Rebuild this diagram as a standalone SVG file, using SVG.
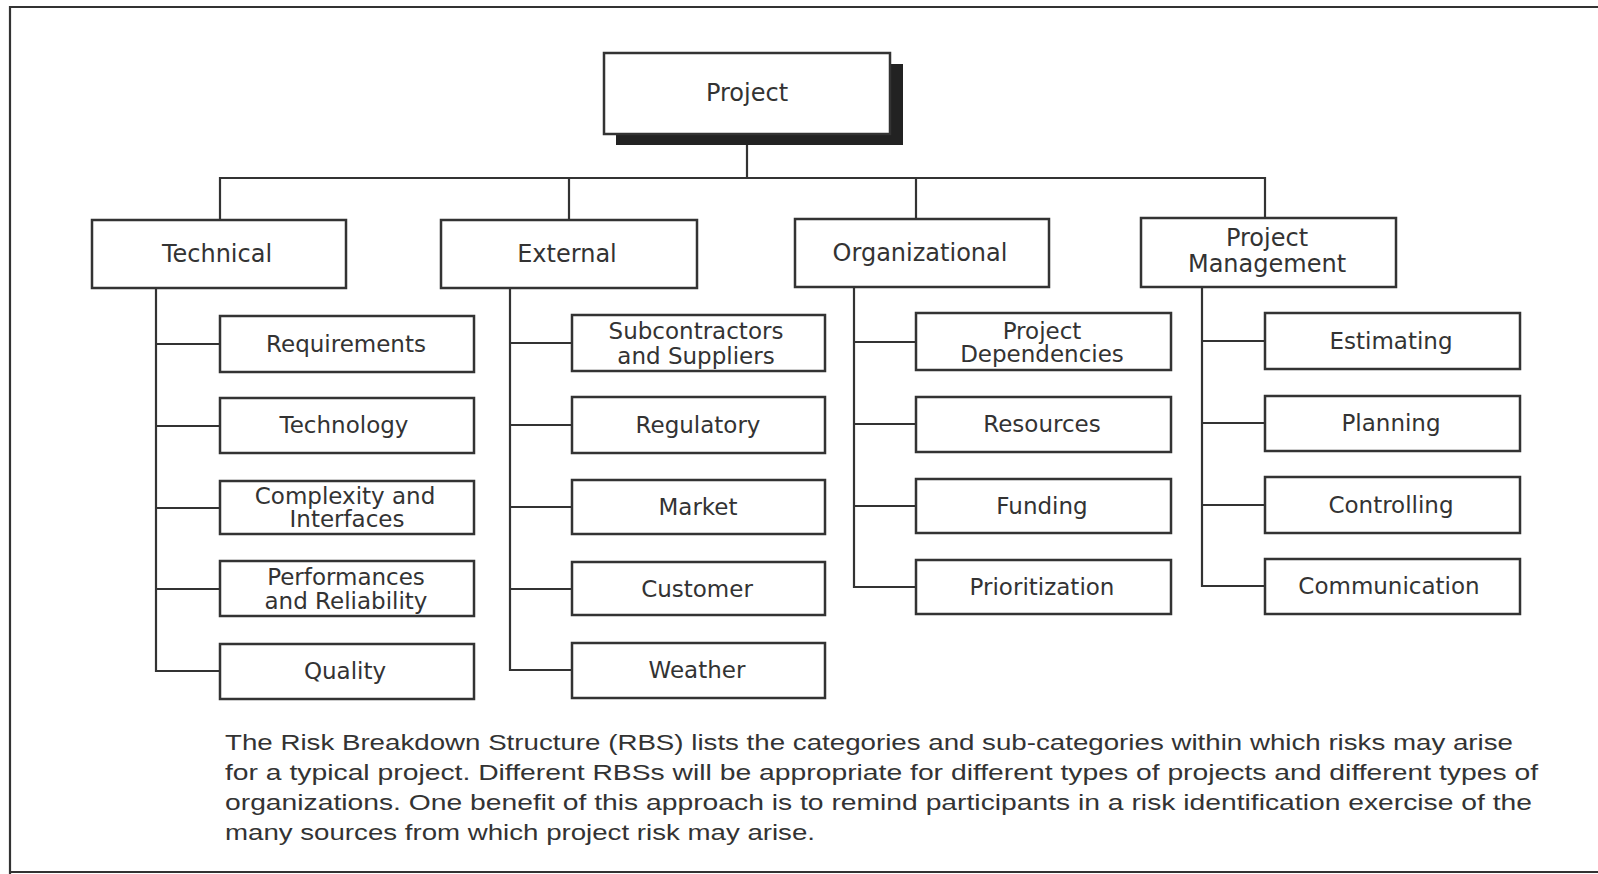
<svg xmlns="http://www.w3.org/2000/svg" width="1598" height="874" viewBox="0 0 1598 874">
<style>
.box{fill:#fff;stroke:#333;stroke-width:2.5}
.shadow{fill:#222}
.ln{fill:none;stroke:#333;stroke-width:2.2}
.t{font-family:"DejaVu Sans",sans-serif;font-size:23px;fill:#333;text-anchor:middle;dominant-baseline:central}
.tc{font-family:"DejaVu Sans",sans-serif;font-size:24px;fill:#333;text-anchor:middle;dominant-baseline:central}
.cap{font-family:"Liberation Sans",sans-serif;font-size:22px;fill:#333}
</style>
<rect width="1598" height="874" fill="#fff"/>
<path class="ln" d="M10,874 V7 H1598 M10,872 H1598" stroke-width="3"/>
<g id="connectors">
<path class="ln" d="M747,134 V178 M220,220 V178 H1265 V218 M569,178 V220 M916,178 V219"/>
<path class="ln" d="M156,288 V671 H220 M156,344 H220 M156,426 H220 M156,508 H220 M156,589 H220"/>
<path class="ln" d="M510,288 V670 H572 M510,343 H572 M510,425 H572 M510,507 H572 M510,589 H572"/>
<path class="ln" d="M854,287 V587 H916 M854,342 H916 M854,424 H916 M854,506 H916"/>
<path class="ln" d="M1202,287 V586 H1265 M1202,341 H1265 M1202,423 H1265 M1202,505 H1265"/>
</g>
<g id="project"><rect class="shadow" x="616" y="64" width="287" height="81"/><rect class="box" x="604" y="53" width="286" height="81"/><text class="tc" x="747" y="93">Project</text></g>
<g id="technical"><rect class="box" x="92" y="220" width="254" height="68"/><text class="tc" x="217" y="254">Technical</text></g>
<g id="external"><rect class="box" x="441" y="220" width="256" height="68"/><text class="tc" x="567" y="254">External</text></g>
<g id="organizational"><rect class="box" x="795" y="219" width="254" height="68"/><text class="tc" x="920" y="253">Organizational</text></g>
<g id="project-management"><rect class="box" x="1141" y="218" width="255" height="69"/><text class="tc" x="1267" y="238">Project</text><text class="tc" x="1267" y="264">Management</text></g>

<g id="requirements"><rect class="box" x="220" y="316" width="254" height="56"/><text class="t" x="346" y="344">Requirements</text></g>
<g id="technology"><rect class="box" x="220" y="398" width="254" height="55"/><text class="t" x="344" y="425">Technology</text></g>
<g id="complexity"><rect class="box" x="220" y="481" width="254" height="53"/><text class="t" x="345" y="496">Complexity and</text><text class="t" x="347" y="519">Interfaces</text></g>
<g id="performances"><rect class="box" x="220" y="561" width="254" height="55"/><text class="t" x="346" y="577">Performances</text><text class="t" x="346" y="601">and Reliability</text></g>
<g id="quality"><rect class="box" x="220" y="644" width="254" height="55"/><text class="t" x="345" y="671">Quality</text></g>

<g id="subcontractors"><rect class="box" x="572" y="315" width="253" height="56"/><text class="t" x="696" y="331">Subcontractors</text><text class="t" x="696" y="356">and Suppliers</text></g>
<g id="regulatory"><rect class="box" x="572" y="397" width="253" height="56"/><text class="t" x="698" y="425">Regulatory</text></g>
<g id="market"><rect class="box" x="572" y="480" width="253" height="54"/><text class="t" x="698" y="507">Market</text></g>
<g id="customer"><rect class="box" x="572" y="562" width="253" height="53"/><text class="t" x="697" y="589">Customer</text></g>
<g id="weather"><rect class="box" x="572" y="643" width="253" height="55"/><text class="t" x="697" y="670">Weather</text></g>

<g id="project-dependencies"><rect class="box" x="916" y="313" width="255" height="57"/><text class="t" x="1042" y="331">Project</text><text class="t" x="1042" y="354">Dependencies</text></g>
<g id="resources"><rect class="box" x="916" y="397" width="255" height="55"/><text class="t" x="1042" y="424">Resources</text></g>
<g id="funding"><rect class="box" x="916" y="479" width="255" height="54"/><text class="t" x="1042" y="506">Funding</text></g>
<g id="prioritization"><rect class="box" x="916" y="560" width="255" height="54"/><text class="t" x="1042" y="587">Prioritization</text></g>

<g id="estimating"><rect class="box" x="1265" y="313" width="255" height="56"/><text class="t" x="1391" y="341">Estimating</text></g>
<g id="planning"><rect class="box" x="1265" y="396" width="255" height="55"/><text class="t" x="1391" y="423">Planning</text></g>
<g id="controlling"><rect class="box" x="1265" y="477" width="255" height="56"/><text class="t" x="1391" y="505">Controlling</text></g>
<g id="communication"><rect class="box" x="1265" y="559" width="255" height="55"/><text class="t" x="1389" y="586">Communication</text></g>

<g id="caption">
<text class="cap" x="225" y="750" textLength="1288" lengthAdjust="spacingAndGlyphs">The Risk Breakdown Structure (RBS) lists the categories and sub-categories within which risks may arise</text>
<text class="cap" x="225" y="780" textLength="1313" lengthAdjust="spacingAndGlyphs">for a typical project. Different RBSs will be appropriate for different types of projects and different types of</text>
<text class="cap" x="225" y="810" textLength="1307" lengthAdjust="spacingAndGlyphs">organizations. One benefit of this approach is to remind participants in a risk identification exercise of the</text>
<text class="cap" x="225" y="840" textLength="590" lengthAdjust="spacingAndGlyphs">many sources from which project risk may arise.</text>
</g>
</svg>
